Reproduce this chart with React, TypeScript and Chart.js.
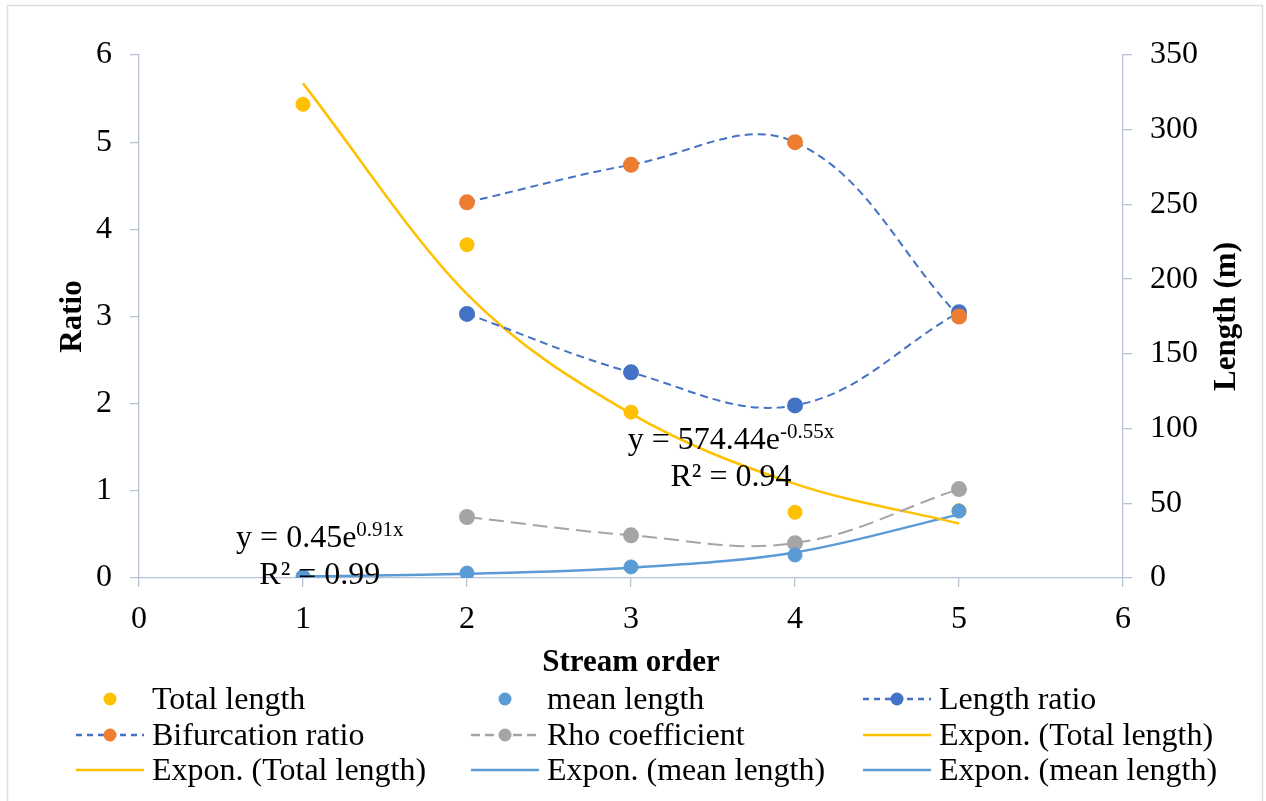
import React, { useEffect, useRef } from "react";
import { Chart, registerables } from "chart.js";

Chart.register(...registerables);

// ---- data ----
const streamOrders = [1, 2, 3, 4, 5];
const totalLength = [317, 223, 111, 44, 45]; // m (right axis)
const meanLength = [1, 3.3, 7.4, 15.4, 44.8]; // m (right axis)
const ratioOrders = [2, 3, 4, 5];
const lengthRatio = [3.03, 2.36, 1.98, 3.05];
const bifurcationRatio = [4.31, 4.74, 5.0, 3.0];
const rhoCoefficient = [0.7, 0.49, 0.4, 1.02];
const totalTrend = [331, 190, 110, 63, 36.5];
const meanTrend = [1.1, 2.8, 6.9, 17.1, 42.6];

const xTicks = [0, 1, 2, 3, 4, 5, 6];
const ratioTicks = [0, 1, 2, 3, 4, 5, 6];
const lengthTicks = [0, 50, 100, 150, 200, 250, 300, 350];

const legendLabels = [
  "Total length",
  "mean length",
  "Length ratio",
  "Bifurcation ratio",
  "Rho coefficient",
  "Expon. (Total length)",
  "Expon. (Total length)",
  "Expon. (mean length)",
  "Expon. (mean length)",
];

const eqTotal = { main: "y = 574.44e", sup: "-0.55x", r2: "R² = 0.94" };
const eqMean = { main: "y = 0.45e", sup: "0.91x", r2: "R² = 0.99" };

// ---- styles ----
const YELLOW = "#FFC000";
const LBLUE = "#5B9BD5";
const DBLUE = "#4472C4";
const ORANGE = "#ED7D31";
const GRAY = "#A5A5A5";
const AXIS = "#B7C2D4";
const FONT = '"Liberation Serif", "Times New Roman", serif';

const pts = (xs: number[], ys: number[]) => xs.map((x, i) => ({ x, y: ys[i] }));

type Marker = { dot?: string; line?: string; dash?: number[] };
const legendMarkers: Marker[] = [
  { dot: YELLOW },
  { dot: LBLUE },
  { dot: DBLUE, line: DBLUE, dash: [6, 5] },
  { dot: ORANGE, line: DBLUE, dash: [6, 5] },
  { dot: GRAY, line: GRAY, dash: [9, 5] },
  { line: YELLOW },
  { line: YELLOW },
  { line: LBLUE },
  { line: LBLUE },
];

const decorPlugin = {
  id: "decor",
  beforeDraw(chart: any) {
    const ctx = chart.ctx;
    ctx.save();
    ctx.fillStyle = "#ffffff";
    ctx.fillRect(0, 0, chart.width, chart.height);
    ctx.strokeStyle = "#D9DEE6";
    ctx.lineWidth = 1.5;
    ctx.strokeRect(7.5, 5.5, 1255, 805);
    ctx.restore();
  },
  afterDatasetsDraw(chart: any) {
    const ctx = chart.ctx;
    const xs = chart.scales.x;
    const yr = chart.scales.y1;
    const drawEq = (eq: any, xv: number, yv: number) => {
      const left = xs.getPixelForValue(xv);
      const base = yr.getPixelForValue(yv);
      ctx.save();
      ctx.fillStyle = "#000";
      ctx.textBaseline = "alphabetic";
      ctx.textAlign = "left";
      ctx.font = `32px ${FONT}`;
      const w1 = ctx.measureText(eq.main).width;
      ctx.fillText(eq.main, left, base);
      ctx.font = `21px ${FONT}`;
      const w2 = ctx.measureText(eq.sup).width;
      ctx.fillText(eq.sup, left + w1, base - 11);
      ctx.font = `32px ${FONT}`;
      ctx.textAlign = "center";
      ctx.fillText(eq.r2, left + (w1 + w2) / 2, base + 37);
      ctx.restore();
    };
    drawEq(eqMean, 0.592, 21);
    drawEq(eqTotal, 2.98, 86);
  },
  afterDraw(chart: any) {
    const ctx = chart.ctx;
    const xs = chart.scales.x;
    const area = chart.chartArea;
    ctx.save();
    ctx.fillStyle = "#000";
    ctx.font = `bold 31px ${FONT}`;
    ctx.textAlign = "center";
    ctx.textBaseline = "alphabetic";
    ctx.fillText("Stream order", (xs.left + xs.right) / 2, 671);
    const midY = (area.top + area.bottom) / 2;
    ctx.save();
    ctx.translate(81, midY);
    ctx.rotate(-Math.PI / 2);
    ctx.fillText("Ratio", 0, 0);
    ctx.restore();
    ctx.save();
    ctx.translate(1235, midY);
    ctx.rotate(-Math.PI / 2);
    ctx.fillText("Length (m)", 0, 0);
    ctx.restore();

    // legend (3 columns x 3 rows)
    const colX = [110, 505, 897];
    const rowY = [699, 735, 770];
    ctx.font = `32px ${FONT}`;
    ctx.textAlign = "left";
    legendLabels.forEach((label, i) => {
      const cx = colX[i % 3];
      const cy = rowY[Math.floor(i / 3)];
      const m = legendMarkers[i];
      if (m.line) {
        ctx.save();
        ctx.strokeStyle = m.line;
        ctx.lineWidth = 2.5;
        ctx.setLineDash(m.dash || []);
        ctx.beginPath();
        ctx.moveTo(cx - 34, cy);
        ctx.lineTo(cx + 34, cy);
        ctx.stroke();
        ctx.restore();
      }
      if (m.dot) {
        ctx.beginPath();
        ctx.fillStyle = m.dot;
        ctx.arc(cx, cy, 6.5, 0, Math.PI * 2);
        ctx.fill();
      }
      ctx.fillStyle = "#000";
      ctx.fillText(label, cx + 42, cy + 10);
    });
    ctx.restore();
  },
};

export default function App() {
  const ref = useRef<HTMLCanvasElement>(null);

  useEffect(() => {
    document.body.style.margin = "0";
    const canvas = ref.current!;
    const tickFont = { family: FONT, size: 32 };
    const axisCommon = (pos: string) => ({
      grid: { drawOnChartArea: false, drawTicks: true, tickLength: 9, color: AXIS, lineWidth: 1.3 },
      border: { display: true, color: AXIS, width: 1.3 },
      ticks: { font: tickFont, color: "#000", padding: 18, stepSize: 1 },
      position: pos,
    });

    const chart = new Chart(canvas, {
      type: "scatter",
      data: {
        datasets: [
          {
            label: "mean length",
            data: pts(streamOrders, meanLength),
            yAxisID: "y1",
            showLine: false,
            pointRadius: 7,
            backgroundColor: LBLUE,
            borderColor: LBLUE,
            order: 1,
          },
          {
            label: "Total length",
            data: pts(streamOrders, totalLength),
            yAxisID: "y1",
            showLine: false,
            pointRadius: 7,
            backgroundColor: YELLOW,
            borderColor: YELLOW,
            order: 2,
          },
          {
            label: "Length ratio",
            data: pts(ratioOrders, lengthRatio),
            yAxisID: "y",
            showLine: true,
            tension: 0.38,
            borderColor: DBLUE,
            borderWidth: 2,
            borderDash: [8, 5],
            pointRadius: 7,
            pointBackgroundColor: DBLUE,
            pointBorderColor: DBLUE,
            order: 4,
          },
          {
            label: "Bifurcation ratio",
            data: pts(ratioOrders, bifurcationRatio),
            yAxisID: "y",
            showLine: true,
            tension: 0.38,
            borderColor: DBLUE,
            borderWidth: 2,
            borderDash: [8, 5],
            pointRadius: 7,
            pointBackgroundColor: ORANGE,
            pointBorderColor: ORANGE,
            order: 3,
          },
          {
            label: "Rho coefficient",
            data: pts(ratioOrders, rhoCoefficient),
            yAxisID: "y",
            showLine: true,
            tension: 0.38,
            borderColor: GRAY,
            borderWidth: 2,
            borderDash: [15, 7],
            pointRadius: 7,
            pointBackgroundColor: GRAY,
            pointBorderColor: GRAY,
            order: 5,
          },
          {
            label: "Expon. (Total length)",
            data: pts(streamOrders, totalTrend),
            yAxisID: "y1",
            showLine: true,
            cubicInterpolationMode: "monotone",
            borderColor: YELLOW,
            borderWidth: 2.5,
            pointRadius: 0,
            order: 6,
          },
          {
            label: "Expon. (mean length)",
            data: pts(streamOrders, meanTrend),
            yAxisID: "y1",
            showLine: true,
            cubicInterpolationMode: "monotone",
            borderColor: LBLUE,
            borderWidth: 2.5,
            pointRadius: 0,
            order: 7,
          },
        ],
      },
      options: {
        responsive: false,
        animation: false,
        layout: { padding: { top: 55, left: 0, right: 0, bottom: 0 } },
        plugins: { legend: { display: false }, tooltip: { enabled: false } },
        scales: {
          x: {
            ...axisCommon("bottom"),
            type: "linear",
            min: xTicks[0],
            max: xTicks[xTicks.length - 1],
            ticks: { font: tickFont, color: "#000", padding: 13, stepSize: 1 },
            afterFit: (s: any) => {
              s.height = 801 - 578;
            },
          },
          y: {
            ...axisCommon("left"),
            type: "linear",
            min: ratioTicks[0],
            max: ratioTicks[ratioTicks.length - 1],
            afterFit: (s: any) => {
              s.width = 139;
            },
          },
          y1: {
            ...axisCommon("right"),
            type: "linear",
            min: lengthTicks[0],
            max: lengthTicks[lengthTicks.length - 1],
            ticks: { font: tickFont, color: "#000", padding: 18, stepSize: 50 },
            afterFit: (s: any) => {
              s.width = 1266 - 1123;
            },
          },
        },
      } as any,
      plugins: [decorPlugin],
    });
    return () => chart.destroy();
  }, []);

  return (
    <div style={{ position: "absolute", left: 0, top: 0, width: 1266, height: 801 }}>
      <canvas ref={ref} width={1266} height={801} style={{ width: 1266, height: 801, display: "block" }} />
    </div>
  );
}
